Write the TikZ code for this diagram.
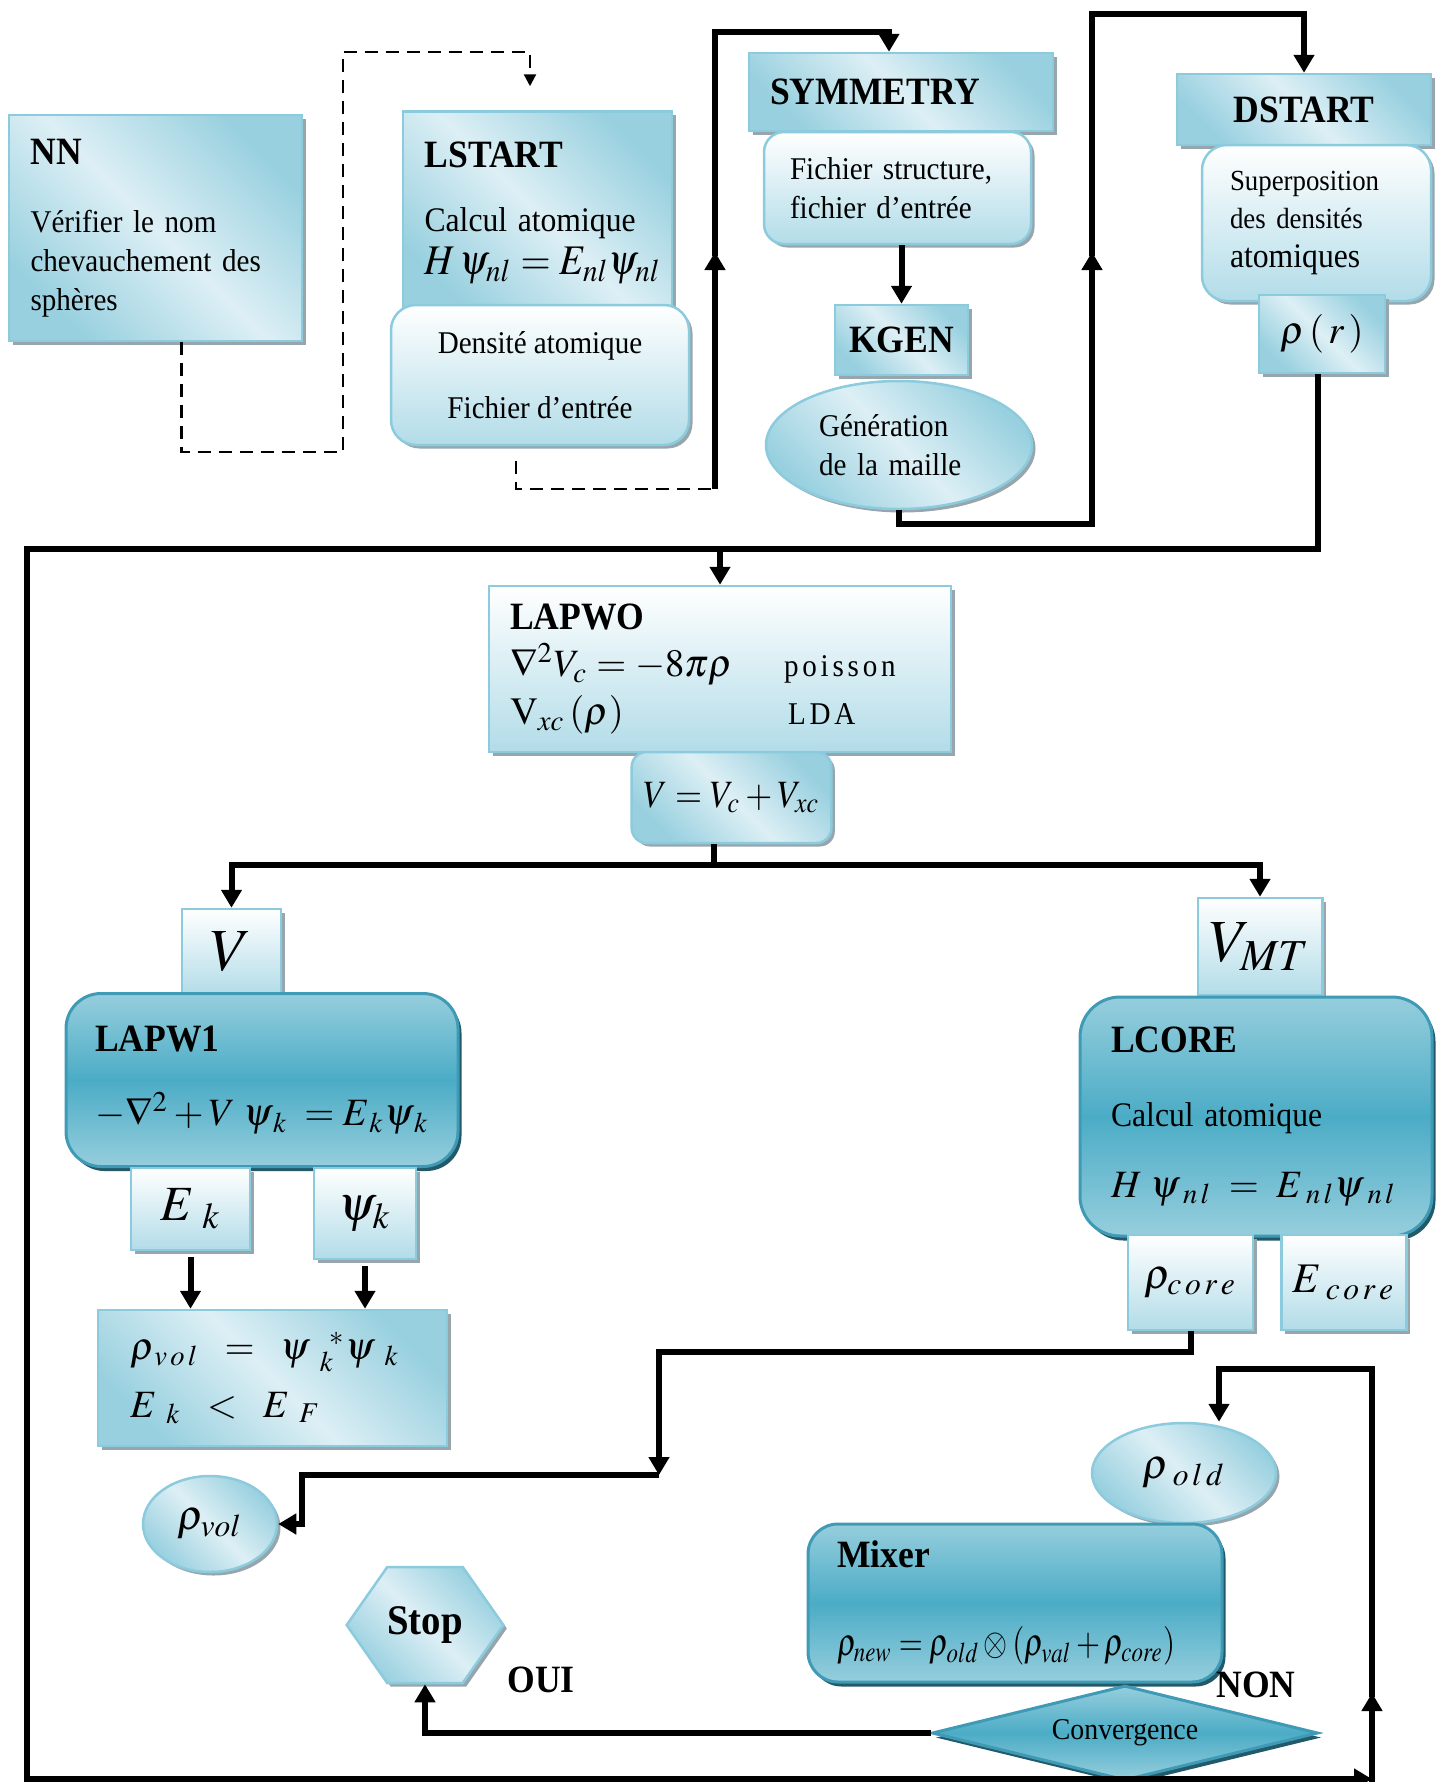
\documentclass[tikz,border=0pt]{standalone}
\usepackage{mathptmx}
\usepackage{graphicx}
\usepackage{fontspec}
\setmainfont{Liberation Serif}[FakeStretch=0.92]
\usetikzlibrary{arrows.meta, positioning, calc}
\usetikzlibrary{shapes,shadows}

\definecolor{edgeblue}{RGB}{140,203,221}
\definecolor{paleblue}{RGB}{221,239,245}
\definecolor{midblue}{RGB}{152,208,223}
\definecolor{fadeblue}{RGB}{178,220,232}
\definecolor{topblue}{RGB}{150,206,221}
\definecolor{deepblue}{RGB}{75,172,198}
\definecolor{deepedge}{RGB}{62,154,181}
\definecolor{deepshadow}{RGB}{35,90,105}
\definecolor{greyshadow}{RGB}{150,166,172}

\newcommand{\bodysz}{\fontsize{9}{11}\selectfont}
\newcommand{\smallsz}{\fontsize{8.3}{10}\selectfont}
\newcommand{\calcsz}{\fontsize{9.8}{11.5}\selectfont}
\newcommand{\headsz}{\fontsize{11}{13}\selectfont\bfseries}
\newcommand{\eqsz}{\fontsize{12}{14}\selectfont}
\newcommand{\midsz}{\fontsize{11}{13.5}\selectfont}
\newcommand{\bigsz}{\fontsize{14}{16}\selectfont}
\newcommand{\hugesz}{\fontsize{17}{19}\selectfont}
\newcommand{\lspace}[1]{{\addfontfeature{LetterSpace=12}#1}}

\begin{document}
\begin{tikzpicture}[x=0.1mm, y=-0.1mm]
  \tikzset{
    lightbox/.style={draw=edgeblue, line width=0.25mm, font=\bodysz,
      top color=midblue, bottom color=midblue, middle color=paleblue, shading angle=-45,
      drop shadow={shadow xshift=0.35mm, shadow yshift=-0.35mm, fill=greyshadow, opacity=1}},
    fadebox/.style={draw=edgeblue, line width=0.25mm, font=\bodysz,
      top color=white, bottom color=fadeblue,
      drop shadow={shadow xshift=0.35mm, shadow yshift=-0.35mm, fill=greyshadow, opacity=1}},
    deepbox/.style={draw=deepedge, line width=0.3mm, font=\bodysz,
      top color=topblue, bottom color=topblue, middle color=deepblue,
      drop shadow={shadow xshift=0.35mm, shadow yshift=-0.45mm, fill=deepshadow, opacity=1}},
    wire/.style={line width=0.6mm},
    flow/.style={wire, -{Triangle[length=1.8mm,width=2mm]}},
    dashwire/.style={line width=0.22mm, dash pattern=on 1.3mm off 0.8mm},
    dashflow/.style={dashwire, -{Triangle[length=1.2mm,width=1.2mm]}}
  }
  \useasboundingbox (0,0) rectangle (1442,1782);

  \node[lightbox, minimum width=29.3mm, minimum height=22.6mm, text width=25mm, align=left] (NN) at (155.5,228)
    {{\headsz NN}\\[3mm]Vérifier le nom\\chevauchement des\\sphères};
  \node[lightbox, minimum width=26.9mm, minimum height=20.3mm, text width=22.6mm, align=left] (LS) at (537.5,213)
    {{\headsz LSTART}\\[2.5mm]{\calcsz Calcul atomique}\\[0.5mm]\mbox{\eqsz\scalebox{0.92}[1]{$H\,\psi_{nl}=E_{nl}\psi_{nl}$}}};
  \node[fadebox, rounded corners=2.5mm, minimum width=29.8mm, minimum height=14mm, align=center] (LS2) at (540,375)
    {Densité atomique\\[2.6mm]Fichier d’entrée};

  \node[lightbox, minimum width=30.4mm, minimum height=7.8mm, text width=26.2mm, align=left] (SYM) at (901,92)
    {\headsz SYMMETRY};
  \node[fadebox, rounded corners=2mm, minimum width=26.7mm, minimum height=11.2mm, text width=21.5mm, align=left] (FS) at (897.5,188)
    {Fichier structure,\\fichier d’entrée};
  \node[lightbox, minimum width=13.3mm, minimum height=7mm] (KG) at (901.5,340) {\headsz KGEN};
  \node[lightbox, ellipse, minimum width=26.6mm, minimum height=12.8mm, text width=16mm, align=left] (GM) at (899,445)
    {Génération\\de la maille};

  \node[lightbox, minimum width=25.4mm, minimum height=7.1mm] (DS) at (1304,109.5) {\headsz DSTART};
  \node[fadebox, rounded corners=2.5mm, minimum width=22.9mm, minimum height=15.6mm, text width=17.3mm, align=left] (SD) at (1316.5,223)
    {{\smallsz Superposition}\\{\smallsz des densités}\\{\calcsz atomiques}};
  \node[lightbox, minimum width=12.6mm, minimum height=7.8mm, font=\midsz] (RR) at (1322,334) {$\rho\left(\,r\,\right)$};

  \node[fadebox, minimum width=46.2mm, minimum height=16.6mm, text width=42mm, align=left, font=\midsz] (LW0) at (720,669)
    {{\headsz LAPWO}\\\makebox[27.4mm][l]{$\nabla^{2}V_{c}=-8\pi\rho$}{\bodysz\lspace{poisson}}\\
     \makebox[27.8mm][l]{$\mathrm{V}_{xc}\left(\rho\right)$}{\bodysz\lspace{LDA}}};
  \node[lightbox, rounded corners=1.5mm, minimum width=18.7mm, minimum height=9.1mm, font=\midsz] (VV) at (731.5,797.5)
    {\scalebox{0.9}[1]{$V=V_{c}+V_{xc}$}};

  \node[fadebox, minimum width=9.9mm, minimum height=8.6mm, font=\hugesz] (V) at (231.5,952) {$V$};
  \node[deepbox, rounded corners=3.5mm, minimum width=39.2mm, minimum height=17.3mm, text width=33.4mm, align=left] (LW1) at (262,1080)
    {{\headsz LAPW1}\\[3.6mm]{\midsz $-\nabla^{2}+V\;\psi_{\,k}\;=E_{\,k}\psi_{\,k}$}};
  \node[fadebox, minimum width=11.9mm, minimum height=8.2mm, font=\bigsz] (EK) at (190.5,1209) {$E_{\;\,k}$};
  \node[fadebox, minimum width=10.2mm, minimum height=9.1mm, font=\bigsz] (PK) at (365,1213.5) {$\psi_{k}$};
  \node[lightbox, minimum width=34.9mm, minimum height=13.6mm, text width=28.5mm, align=left, font=\midsz] (RV) at (272.5,1378)
    {$\rho_{\,v\,o\,l}\;\;=\;\;\psi_{\;\;k}^{\;\;\;*}\psi_{\;\;k}$\\[1mm]$E_{\;\;k}\;\;<\;\;E_{\;\;F}$};
  \node[lightbox, ellipse, minimum width=13.4mm, minimum height=9.6mm, font=\eqsz] (RVE) at (210,1524) {$\rho_{vol}$};

  \node[fadebox, minimum width=11.6mm, minimum height=9.7mm, font=\hugesz] (VMT) at (1260,946.5) {$V_{MT}$};
  \node[deepbox, rounded corners=4mm, minimum width=35.2mm, minimum height=23.9mm, text width=29mm, align=left] (LC) at (1256,1116.5)
    {{\headsz LCORE}\\[3.5mm]{\calcsz Calcul atomique}\\[3.2mm]{\midsz $H\;\psi_{\;n\,l}\;=\;E_{\;n\,l}\psi_{\;n\,l}$}};
  \node[fadebox, minimum width=12.5mm, minimum height=9.5mm, font=\eqsz] (RC) at (1190.5,1282.5) {$\rho_{c\,o\,r\,e}$};
  \node[fadebox, minimum width=11.8mm, minimum height=9.5mm, font=\eqsz] (EC) at (1344,1282.5) {$E_{\;c\,o\,r\,e}$};

  \node[lightbox, ellipse, minimum width=18.4mm, minimum height=10mm, font=\eqsz] (RO) at (1184,1473) {$\rho_{\;o\,l\,d}$};
  \node[deepbox, rounded corners=3mm, minimum width=41.4mm, minimum height=15.8mm, text width=35.6mm, align=left] (MX) at (1015,1603)
    {{\headsz Mixer}\\[5mm]\mbox{\midsz\scalebox{0.8}[1]{$\rho_{new}=\rho_{old}\otimes\left(\rho_{val}+\rho_{core}\right)$}}};
  \node[lightbox, signal, signal to=east and west, signal pointer angle=110, inner xsep=0pt, minimum width=13mm, minimum height=11.6mm,
    font=\fontsize{12}{14}\selectfont\bfseries] (ST) at (425,1625) {Stop};
  \node[deepbox, diamond, aspect=4, inner sep=0pt, minimum width=38.6mm, minimum height=9.5mm,
    font=\fontsize{8.6}{10}\selectfont] (CV) at (1125,1733) {Convergence};
  \node[font=\headsz] (OUI) at (541,1680) {OUI};
  \node[font=\headsz] (NON) at (1256,1685) {NON};

  \draw[dashflow, shorten >=2.4mm] ([xshift=2.6mm]NN.south) |- (343,452) -- (343,52) -| ([xshift=-0.75mm]LS.north);
  \coordinate (J1) at (715,489);
  \draw[dashwire] ([xshift=-2.4mm, yshift=-1.5mm]LS2.south) |- (J1);
  \draw[flow] (J1) -- (715,252);
  \draw[flow] (715,256) -- (715,32) -| ([xshift=-1.2mm]SYM.north);
  \draw[flow] (FS.south -| KG.north) -- (KG.north);

  \draw[flow] (GM.south) |- (1092,524) -- (1092,252);
  \draw[flow] (1092,256) -- (1092,14) -| (DS.north);

  \draw[flow] ([xshift=-0.4mm]RR.south) |- (27,549) |- (1372,1779);
  \draw[flow] (1372,1782) -- (1372,1693);
  \draw[flow] (1372,1697) -- (1372,1369) -| ([xshift=3.5mm]RO.north);
  \draw[flow] (LW0.north |- 0,549) -- (LW0.north);

  \draw[wire] ([xshift=-1.75mm]VV.south) -- ++(0,21) coordinate (split);
  \draw[flow] (split) -| (V.north);
  \draw[flow] (split) -| (VMT.north);

  \draw[flow] ([yshift=-0.6mm]EK.south) -- (EK.south |- RV.north);
  \draw[flow] ([yshift=-0.6mm]PK.south) -- (PK.south |- RV.north);

  \draw[flow] (RC.south) |- (659,1352) -- (659,1475);
  \coordinate (M) at (659,1475);
  \draw[flow] (M) -- (302,1475) |- (RVE.east);

  \draw[flow] (CV.west) -| (ST.south);
\end{tikzpicture}
\end{document}
